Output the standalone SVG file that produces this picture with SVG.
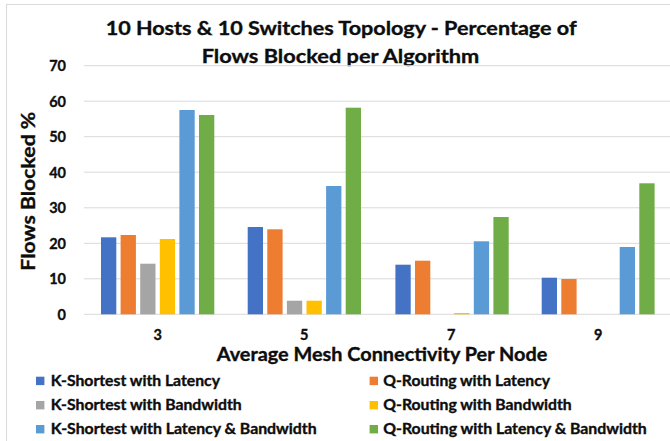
<svg xmlns="http://www.w3.org/2000/svg" width="670" height="441" viewBox="0 0 670 441">
  <style>
    text { font-family: Lato, "Liberation Sans", "DejaVu Sans", sans-serif; font-weight: 700; fill: #0d0d0d; stroke: #0d0d0d; stroke-width: 0.35px; }
    .title { font-size: 19.5px; }
    .axis-title { font-size: 18.5px; }
    .tick { font-size: 14.5px; }
    .legend { font-size: 14.4px; }
    .grid line { stroke: #d9d9d9; stroke-width: 1; }
    .s1 { fill: #4472c4; }
    .s2 { fill: #ed7d31; }
    .s3 { fill: #a5a5a5; }
    .s4 { fill: #ffc000; }
    .s5 { fill: #5b9bd5; }
    .s6 { fill: #70ad47; }
  </style>

  <!-- chart area background and frame -->
  <rect x="0" y="0" width="670" height="441" fill="#ffffff"/>
  <rect x="6.5" y="4.5" width="680" height="450" fill="none" stroke="#d9d9d9" stroke-width="1"/>

  <!-- title -->
  <g id="title">
    <text class="title" x="105.7" y="35" textLength="471" lengthAdjust="spacingAndGlyphs">10 Hosts &amp; 10 Switches Topology - Percentage of</text>
    <text class="title" x="201.7" y="63.3" textLength="277.6" lengthAdjust="spacingAndGlyphs">Flows Blocked per Algorithm</text>
  </g>

  <!-- horizontal gridlines, 0 to 70 in steps of 10 -->
  <g class="grid" id="gridlines">
    <line x1="84" y1="65.7" x2="670" y2="65.7"/>
    <line x1="84" y1="101.2" x2="670" y2="101.2"/>
    <line x1="84" y1="136.7" x2="670" y2="136.7"/>
    <line x1="84" y1="172.2" x2="670" y2="172.2"/>
    <line x1="84" y1="207.8" x2="670" y2="207.8"/>
    <line x1="84" y1="243.3" x2="670" y2="243.3"/>
    <line x1="84" y1="278.8" x2="670" y2="278.8"/>
    <line x1="84" y1="314.3" x2="670" y2="314.3" stroke="#d0d0d0"/>
  </g>

  <!-- value axis -->
  <g id="y-axis">
    <text class="tick" x="66" y="71.2" text-anchor="end">70</text>
    <text class="tick" x="66" y="106.7" text-anchor="end">60</text>
    <text class="tick" x="66" y="142.2" text-anchor="end">50</text>
    <text class="tick" x="66" y="177.7" text-anchor="end">40</text>
    <text class="tick" x="66" y="213.3" text-anchor="end">30</text>
    <text class="tick" x="66" y="248.8" text-anchor="end">20</text>
    <text class="tick" x="66" y="284.3" text-anchor="end">10</text>
    <text class="tick" x="66" y="319.8" text-anchor="end">0</text>
    <text class="axis-title" transform="translate(35 191.2) rotate(-90)" x="0" y="0" text-anchor="middle" textLength="159" lengthAdjust="spacingAndGlyphs">Flows Blocked %</text>
  </g>

  <!-- bars: six series per category -->
  <g id="cat-3">
    <rect class="s1" x="101" y="237.3" width="15.3" height="77"/>
    <rect class="s2" x="120.6" y="235" width="15.3" height="79.3"/>
    <rect class="s3" x="140.2" y="263.7" width="15.3" height="50.6"/>
    <rect class="s4" x="159.8" y="239" width="15.3" height="75.3"/>
    <rect class="s5" x="179.4" y="110" width="15.3" height="204.3"/>
    <rect class="s6" x="199" y="115" width="15.3" height="199.3"/>
  </g>
  <g id="cat-5">
    <rect class="s1" x="247.7" y="227" width="15.3" height="87.3"/>
    <rect class="s2" x="267.3" y="229.3" width="15.3" height="85"/>
    <rect class="s3" x="286.9" y="300.7" width="15.3" height="13.6"/>
    <rect class="s4" x="306.5" y="300.7" width="15.3" height="13.6"/>
    <rect class="s5" x="326.1" y="186" width="15.3" height="128.3"/>
    <rect class="s6" x="345.7" y="107.7" width="15.3" height="206.6"/>
  </g>
  <g id="cat-7">
    <rect class="s1" x="395.4" y="264.7" width="15.3" height="49.6"/>
    <rect class="s2" x="415" y="260.7" width="15.3" height="53.6"/>
    <rect class="s4" x="454.2" y="313" width="15.3" height="1.3"/>
    <rect class="s5" x="473.8" y="241.3" width="15.3" height="73"/>
    <rect class="s6" x="493.4" y="217" width="15.3" height="97.3"/>
  </g>
  <g id="cat-9">
    <rect class="s1" x="541.7" y="277.7" width="15.3" height="36.6"/>
    <rect class="s2" x="561.3" y="279" width="15.3" height="35.3"/>
    <rect class="s5" x="619.7" y="247" width="15.3" height="67.3"/>
    <rect class="s6" x="639.3" y="183.3" width="15.3" height="131"/>
  </g>

  <!-- category axis -->
  <g id="x-axis">
    <text class="tick" x="157.6" y="340" text-anchor="middle">3</text>
    <text class="tick" x="304.3" y="340" text-anchor="middle">5</text>
    <text class="tick" x="451.3" y="340" text-anchor="middle">7</text>
    <text class="tick" x="598.2" y="340" text-anchor="middle">9</text>
    <text class="axis-title" x="216.7" y="360.7" textLength="330.6" lengthAdjust="spacingAndGlyphs">Average Mesh Connectivity Per Node</text>
  </g>

  <!-- legend -->
  <g id="legend">
    <g id="legend-k-latency">
      <rect class="s1" x="36" y="376.7" width="8.4" height="8.4"/>
      <text class="legend" x="50.7" y="386" textLength="169.3" lengthAdjust="spacingAndGlyphs">K-Shortest with Latency</text>
    </g>
    <g id="legend-q-latency">
      <rect class="s2" x="369.6" y="376.7" width="8.4" height="8.4"/>
      <text class="legend" x="383.3" y="386" textLength="166.7" lengthAdjust="spacingAndGlyphs">Q-Routing with Latency</text>
    </g>
    <g id="legend-k-bandwidth">
      <rect class="s3" x="36" y="401" width="8.4" height="8.4"/>
      <text class="legend" x="50.7" y="410" textLength="191" lengthAdjust="spacingAndGlyphs">K-Shortest with Bandwidth</text>
    </g>
    <g id="legend-q-bandwidth">
      <rect class="s4" x="369.6" y="401" width="8.4" height="8.4"/>
      <text class="legend" x="383.3" y="410" textLength="188.4" lengthAdjust="spacingAndGlyphs">Q-Routing with Bandwidth</text>
    </g>
    <g id="legend-k-both">
      <rect class="s5" x="36" y="425" width="8.4" height="8.4"/>
      <text class="legend" x="50.7" y="434" textLength="266" lengthAdjust="spacingAndGlyphs">K-Shortest with Latency &amp; Bandwidth</text>
    </g>
    <g id="legend-q-both">
      <rect class="s6" x="369.6" y="425" width="8.4" height="8.4"/>
      <text class="legend" x="383.3" y="434" textLength="263.4" lengthAdjust="spacingAndGlyphs">Q-Routing with Latency &amp; Bandwidth</text>
    </g>
  </g>
</svg>
